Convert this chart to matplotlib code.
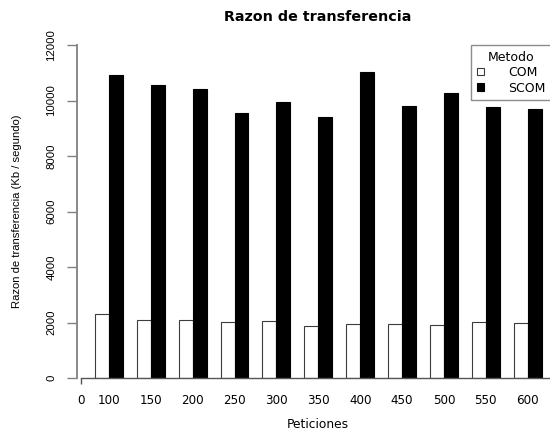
import matplotlib
matplotlib.use("Agg")
import matplotlib.pyplot as plt
from matplotlib.patches import Patch

# Transfer rate (Kb/s) per number of requests, with and without compression
peticiones = ["100", "150", "200", "250", "300", "350", "400", "450", "500", "550", "600"]
com = [2320, 2100, 2080, 2010, 2055, 1865, 1950, 1960, 1900, 2020, 2000]
scom = [10930, 10545, 10400, 9535, 9955, 9390, 11025, 9800, 10255, 9750, 9680]
yticks = [0, 2000, 4000, 6000, 8000, 10000, 12000]

W, H = 550, 432
fig = plt.figure(figsize=(W / 100, H / 100), dpi=100)
fig.patch.set_facecolor("white")

left_px, right_px, top_px, bot_px = 77, 559.6, 45, 378
ax = fig.add_axes([left_px / W, (H - bot_px) / H,
                   (right_px - left_px) / W, (bot_px - top_px) / H])
ax.set_xlim(-0.28, 34.28)
ax.set_ylim(0, 12000)

# grouped bars: one bar-width gap before each pair
n = len(peticiones)
x_com = [1 + 3 * i for i in range(n)]
x_scom = [2 + 3 * i for i in range(n)]
centers = [2 + 3 * i for i in range(n)]

ax.bar(x_com, com, width=1, align="edge", color="white",
       edgecolor="#3c3c3c", linewidth=0.8, zorder=2)
ax.bar(x_scom, scom, width=1, align="edge", color="black",
       edgecolor="black", linewidth=0.8, zorder=2)

axis_col = "#808080"
for s in ("top", "right"):
    ax.spines[s].set_visible(False)
ax.spines["left"].set_color(axis_col)
ax.spines["left"].set_linewidth(1.3)
ax.spines["left"].set_bounds(0, 12000)
ax.spines["bottom"].set_color("#555555")
ax.spines["bottom"].set_linewidth(1.0)
ax.spines["bottom"].set_bounds(0, 34.28)

hfont = "DejaVu Sans"
vfont = "Liberation Sans"

# y axis: rotated labels
ax.set_yticks(yticks)
ax.set_yticklabels([str(v) for v in yticks], rotation=90, va="center",
                   family=vfont, fontsize=8.2)
ax.tick_params(axis="y", length=7.2, width=1.0, color=axis_col, pad=7.5)

# x axis: tick mark only at zero, group labels under each pair
ax.set_xticks([0])
ax.set_xticklabels(["0"], family=hfont, fontsize=8.6)
ax.tick_params(axis="x", which="major", length=4.3, width=1.0,
               color="#555555", pad=7.0)
ax.set_xticks(centers, minor=True)
ax.set_xticklabels(peticiones, minor=True, family=hfont, fontsize=8.6)
ax.tick_params(axis="x", which="minor", length=0, pad=11.3)

fig.text(318 / W, 1 - 17 / H, "Razon de transferencia", ha="center",
         va="center", family=hfont, fontweight="bold", fontsize=10.3)
fig.text(318 / W, 1 - 425 / H, "Peticiones", ha="center", va="center",
         family=hfont, fontsize=8.8)
fig.text(17 / W, 1 - 211 / H, "Razon de transferencia (Kb / segundo)",
         rotation=90, ha="center", va="center", family=vfont, fontsize=8.1)

handles = [Patch(facecolor="white", edgecolor="#3c3c3c", linewidth=0.8),
           Patch(facecolor="black", edgecolor="black", linewidth=0.8)]
leg = fig.legend(handles, ["COM", "SCOM"], title="Metodo",
                 loc="upper left", bbox_to_anchor=(471 / W, 1 - 45 / H),
                 bbox_transform=fig.transFigure, borderaxespad=0,
                 fancybox=False, frameon=True, edgecolor="#707070",
                 prop={"family": hfont, "size": 9},
                 title_fontproperties={"family": hfont, "size": 9},
                 handlelength=0.55, handleheight=0.55, handletextpad=2.0,
                 borderpad=0.45, labelspacing=0.2)
leg.get_frame().set_linewidth(1.0)

fig.savefig("out.png", dpi=100)
